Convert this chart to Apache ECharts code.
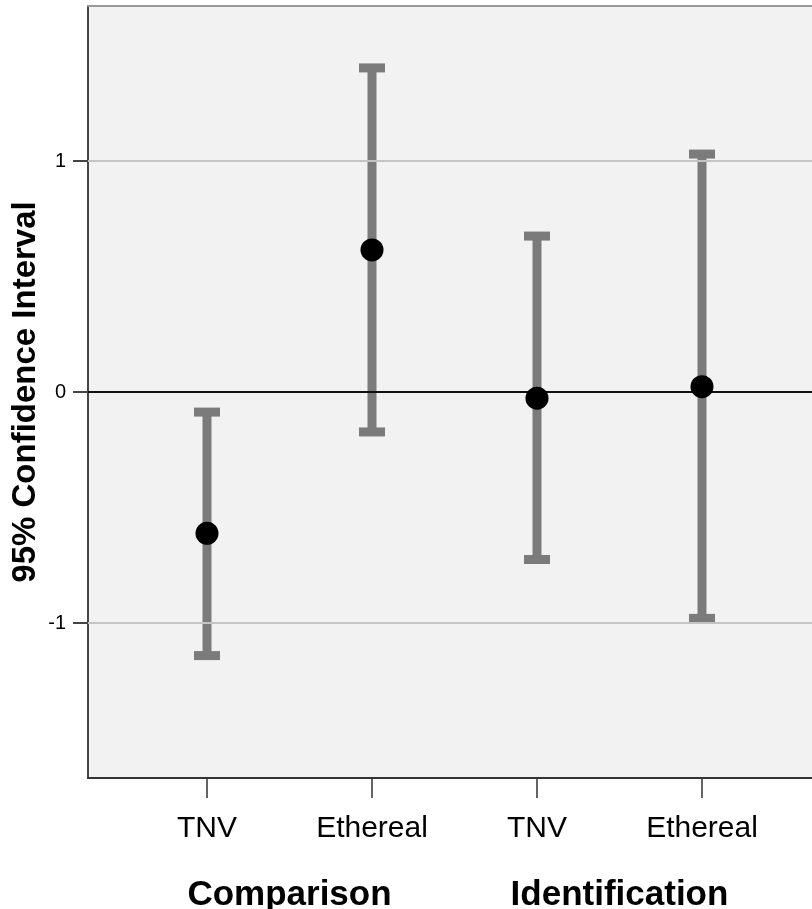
<!DOCTYPE html>
<html>
<head>
<meta charset="utf-8">
<script src="https://cdn.jsdelivr.net/npm/echarts@6/dist/echarts.min.js"></script>
<style>html,body{margin:0;padding:0;background:#fff;}#c{width:812px;height:909px;}</style>
</head>
<body>
<div id="c"></div>
<script>
const categories = ['TNV', 'Ethereal', 'TNV', 'Ethereal'];
const groups = ['Comparison', 'Identification'];
const means = [-0.612, 0.615, -0.027, 0.023];
const lower = [-1.141, -0.173, -0.725, -0.980];
const upper = [-0.087, 1.403, 0.675, 1.030];
const yTicks = [-1, 0, 1];
const xPos = categories.map((c, i) => i + 1);
const groupPos = [1.5, 3.5];

const chart = echarts.init(document.getElementById('c'), null, {renderer: 'canvas'});
const barColor = '#7b7b7b';
const font = '"Liberation Sans", Arial, sans-serif';
const xMin = 0.2788, xMax = 4.6667;

const option = {
  animation: false,
  grid: {
    left: 88, top: 6, right: 0, height: 772,
    outerBoundsMode: 'none', containLabel: false,
    show: true, backgroundColor: '#f2f2f2', borderWidth: 0
  },
  xAxis: [{
    type: 'value', min: xMin, max: xMax,
    axisLine: {show: true, onZero: false, lineStyle: {color: '#333', width: 2}},
    axisTick: {show: true, customValues: xPos, length: 20, lineStyle: {color: '#333', width: 1.5}},
    axisLabel: {customValues: xPos, margin: 36, fontFamily: font, fontSize: 30, color: '#000',
      formatter: v => categories[Math.round(v) - 1] || ''},
    splitLine: {show: false}
  }, {
    type: 'value', min: xMin, max: xMax, position: 'bottom',
    axisLine: {show: false}, axisTick: {show: false},
    axisLabel: {customValues: groupPos, margin: 100, fontFamily: font, fontSize: 35, fontWeight: 'bold', color: '#000',
      formatter: v => groups[Math.round((v - 1.5) / 2)] || ''},
    splitLine: {show: false}
  }, {
    type: 'value', min: xMin, max: xMax, position: 'top',
    axisLine: {show: true, onZero: false, lineStyle: {color: '#999', width: 2}},
    axisTick: {show: false}, axisLabel: {show: false}, splitLine: {show: false}
  }],
  yAxis: {
    type: 'value', min: -1.671, max: 1.671,
    name: '95% Confidence Interval', nameLocation: 'middle', nameGap: 46, nameRotate: 90,
    nameMoveOverlap: false,
    nameTextStyle: {fontFamily: font, fontSize: 33, fontWeight: 'bold', color: '#000'},
    axisLine: {show: true, onZero: false, lineStyle: {color: '#444', width: 2}},
    axisTick: {show: true, customValues: yTicks, length: 15, lineStyle: {color: '#444', width: 2}},
    axisLabel: {customValues: yTicks, margin: 22, fontFamily: font, fontSize: 20, color: '#000'},
    splitLine: {show: false}
  },
  series: [{
    type: 'custom',
    xAxisIndex: 0,
    data: xPos.map((x, i) => [x, lower[i], upper[i]]),
    renderItem: function (params, api) {
      const x = api.value(0);
      const lo = api.coord([x, api.value(1)]);
      const hi = api.coord([x, api.value(2)]);
      const cw = 26, ch = 9;
      return {
        type: 'group',
        children: [
          {type: 'line', shape: {x1: lo[0], y1: lo[1], x2: hi[0], y2: hi[1]},
            style: {stroke: barColor, lineWidth: 9}},
          {type: 'rect', shape: {x: hi[0] - cw / 2, y: hi[1] - ch / 2, width: cw, height: ch},
            style: {fill: barColor}},
          {type: 'rect', shape: {x: lo[0] - cw / 2, y: lo[1] - ch / 2, width: cw, height: ch},
            style: {fill: barColor}}
        ]
      };
    },
    markLine: {
      silent: true, symbol: 'none', label: {show: false},
      data: [
        {yAxis: -1, lineStyle: {color: '#c4c4c4', width: 2, type: 'solid'}},
        {yAxis: 1, lineStyle: {color: '#c4c4c4', width: 2, type: 'solid'}},
        {yAxis: 0, lineStyle: {color: '#111', width: 2, type: 'solid'}}
      ]
    },
    z: 3
  }, {
    type: 'scatter',
    xAxisIndex: 0,
    data: xPos.map((x, i) => [x, means[i]]),
    symbol: 'circle', symbolSize: 23,
    itemStyle: {color: '#000', opacity: 1},
    z: 5
  }]
};
chart.setOption(option);
</script>
</body>
</html>
